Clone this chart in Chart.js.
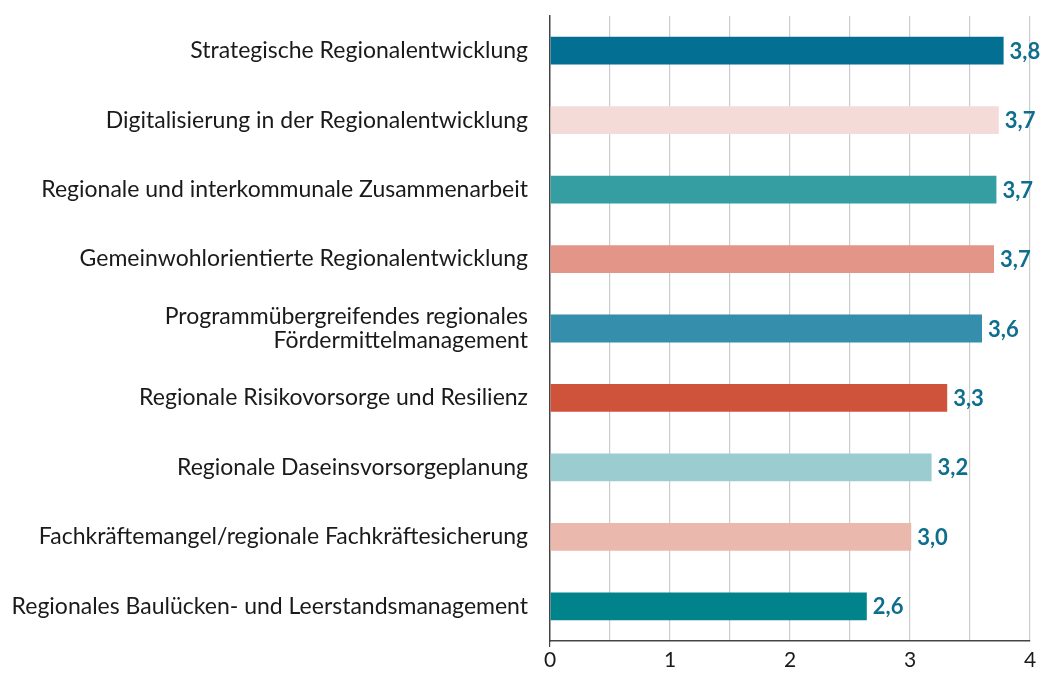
<!DOCTYPE html>
<html>
<head>
<meta charset="utf-8">
<script src="https://cdn.jsdelivr.net/npm/chart.js@4"></script>
<style>
  html, body { margin: 0; padding: 0; background: #fff; }
  #wrap { width: 1042px; height: 673px; }
</style>
</head>
<body>
<div id="wrap"><canvas id="chart"></canvas></div>
<script>
// Data
const categories = [
  "Strategische Regionalentwicklung",
  "Digitalisierung in der Regionalentwicklung",
  "Regionale und interkommunale Zusammenarbeit",
  "Gemeinwohlorientierte Regionalentwicklung",
  ["Programmübergreifendes regionales", "Fördermittelmanagement"],
  "Regionale Risikovorsorge und Resilienz",
  "Regionale Daseinsvorsorgeplanung",
  "Fachkräftemangel/regionale Fachkräftesicherung",
  "Regionales Baulücken- und Leerstandsmanagement"
];
const values = [3.78, 3.74, 3.72, 3.70, 3.60, 3.31, 3.18, 3.01, 2.64];
const valueLabels = ["3,8", "3,7", "3,7", "3,7", "3,6", "3,3", "3,2", "3,0", "2,6"];
const barColors = ["#036f93", "#f5dbd7", "#349ea3", "#e39588", "#358eab", "#cf523a", "#9accd0", "#ebb8ae", "#00838a"];

const fontFamily = "Lato, 'Open Sans', sans-serif";

// Value labels at bar ends
const valueLabelPlugin = {
  id: "valueLabels",
  afterDatasetsDraw(chart) {
    const ctx = chart.ctx;
    const meta = chart.getDatasetMeta(0);
    ctx.save();
    ctx.font = "bold 22px " + fontFamily;
    ctx.fillStyle = "#0f6d8e";
    ctx.textAlign = "left";
    ctx.textBaseline = "middle";
    meta.data.forEach((bar, i) => {
      ctx.fillText(valueLabels[i], bar.x + 6, bar.y + 1);
    });
    ctx.restore();
  }
};

new Chart(document.getElementById("chart"), {
  type: "bar",
  data: {
    labels: categories,
    datasets: [{
      data: values,
      backgroundColor: barColors,
      barPercentage: 0.8,
      categoryPercentage: 0.5
    }]
  },
  options: {
    indexAxis: "y",
    responsive: true,
    maintainAspectRatio: false,
    animation: false,
    layout: { padding: { top: 16, right: 12, left: 0, bottom: 0 } },
    plugins: { legend: { display: false }, tooltip: { enabled: false } },
    scales: {
      x: {
        min: 0,
        max: 4,
        ticks: {
          stepSize: 0.5,
          color: "#1a1a1a",
          font: { family: fontFamily, size: 21 },
          padding: 1,
          maxRotation: 0,
          callback: v => Number.isInteger(v) ? String(v) : ""
        },
        grid: {
          color: ctx => ctx.index === 0 ? "transparent" : "#cccccc",
          lineWidth: 1.2,
          tickLength: 6,
          tickColor: ctx => ctx.index === 0 ? "#444" : "transparent"
        },
        border: { display: true, color: "#444", width: 1.5 },
        afterFit: scale => { scale.height = 32; scale.paddingLeft = 0; scale.paddingRight = 0; }
      },
      y: {
        ticks: {
          color: "#1a1a1a",
          font: { family: fontFamily, size: 23, lineHeight: 1.05 },
          padding: 22
        },
        grid: { display: false, drawTicks: false },
        border: { display: true, color: "#444", width: 1.5 },
        afterFit: scale => { scale.width = 550; scale.paddingTop = 0; scale.paddingBottom = 0; }
      }
    }
  },
  plugins: [valueLabelPlugin]
});
</script>
</body>
</html>
